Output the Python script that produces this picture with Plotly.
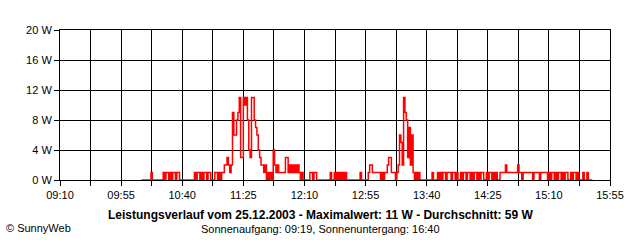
import plotly.graph_objects as go

# ---- data (per-minute power in W, starting 10:10) ----
start_minute = 10 * 60 + 10
power_w = [
    0, 0, 0, 0, 0, 0, 0, 1, 0, 0,
    0, 0, 0, 0, 0, 0, 1, 0, 1, 1,
    0, 1, 0, 1, 1, 0, 1, 1, 0, 0,
    0, 0, 0, 0, 0, 0, 0, 0, 0, 1,
    0, 1, 1, 0, 1, 0, 1, 1, 0, 1,
    1, 0, 0, 0, 1, 1, 0, 1, 0, 1,
    1, 2, 2, 3, 2, 1, 2, 9, 6, 6,
    8, 9, 11, 3, 3, 11, 10, 11, 8, 4,
    3, 11, 11, 8, 7, 6, 4, 3, 2, 2,
    1, 2, 0, 1, 0, 1, 0, 4, 2, 1,
    2, 1, 1, 1, 1, 1, 3, 3, 1, 2,
    1, 2, 1, 2, 1, 2, 1, 0, 1, 0,
    0, 0, 0, 0, 1, 1, 0, 1, 1, 0,
    0, 0, 0, 0, 0, 0, 0, 0, 0, 1,
    0, 0, 1, 0, 1, 0, 1, 0, 1, 0,
    1, 0, 0, 0, 0, 0, 0, 0, 0, 0,
    0, 1, 0, 0, 0, 0, 0, 1, 2, 2,
    1, 1, 1, 1, 1, 1, 0, 1, 0, 1,
    1, 2, 3, 3, 1, 1, 1, 0, 1, 2,
    6, 5, 2, 11, 9, 8, 3, 7, 2, 6,
    1, 0, 1, 0, 1, 0, 0, 0, 0, 0,
    0, 0, 0, 0, 1, 0, 0, 0, 1, 0,
    1, 0, 1, 1, 0, 1, 1, 1, 0, 1,
    1, 0, 1, 0, 0, 1, 0, 1, 1, 0,
    1, 1, 0, 1, 0, 1, 1, 0, 1, 0,
    1, 1, 0, 0, 1, 0, 1, 1, 0, 1,
    0, 1, 0, 0, 1, 1, 1, 1, 2, 1,
    1, 1, 1, 1, 1, 1, 1, 2, 1, 1,
    0, 1, 1, 1, 1, 1, 1, 1, 0, 1,
    1, 1, 1, 0, 1, 1, 1, 1, 1, 0,
    1, 0, 1, 1, 0, 1, 0, 1, 1, 0,
    1, 0, 1, 1, 0, 0, 1, 0, 1, 1,
    0, 1, 0, 0, 0, 1, 0, 0, 1, 0,
    0, 0, 0,
]
minutes = [start_minute + i for i in range(len(power_w))]

x_tick_minutes = [550 + 22.5 * k for k in range(19)]
x_tick_labels = ["09:10", "", "09:55", "", "10:40", "", "11:25", "", "12:10", "",
                 "12:55", "", "13:40", "", "14:25", "", "15:10", "", "15:55"]
y_tick_values = [0, 4, 8, 12, 16, 20]
y_tick_labels = ["0 W", "4 W", "8 W", "12 W", "16 W", "20 W"]

title_text = "Leistungsverlauf vom 25.12.2003 - Maximalwert: 11 W - Durchschnitt: 59 W"
sun_text = "Sonnenaufgang: 09:19, Sonnenuntergang: 16:40"
credit_text = "© SunnyWeb"

FONT = "Liberation Sans, Arial, sans-serif"

fig = go.Figure()
fig.add_trace(go.Scatter(
    x=minutes, y=power_w, mode="lines",
    line=dict(color="#ff0000", width=1.5, shape="hv"),
    hoverinfo="skip", showlegend=False,
))

fig.update_layout(
    width=640, height=240,
    margin=dict(l=60, r=30, t=30, b=60),
    paper_bgcolor="white", plot_bgcolor="white",
    font=dict(family=FONT, size=11, color="black"),
    showlegend=False,
)
fig.update_xaxes(
    range=[550, 955], tickmode="array", tickvals=x_tick_minutes, ticktext=x_tick_labels,
    showgrid=True, gridcolor="black", gridwidth=1,
    showline=True, linecolor="black", linewidth=1, mirror=True,
    ticks="outside", ticklen=5, tickcolor="black", tickwidth=1,
    zeroline=False, layer="above traces",
    tickfont=dict(family=FONT, size=11, color="black"),
)
fig.update_yaxes(
    range=[0, 20], tickmode="array", tickvals=y_tick_values, ticktext=y_tick_labels,
    showgrid=True, gridcolor="black", gridwidth=1,
    showline=True, linecolor="black", linewidth=1, mirror=True,
    ticks="outside", ticklen=5, tickcolor="black", tickwidth=1,
    zeroline=False, layer="above traces",
    tickfont=dict(family=FONT, size=11, color="black"),
)

def px_x(px):
    return (px - 60) / 550.0

def px_y(py):
    return (180 - py) / 150.0

fig.add_annotation(text="<b>" + title_text + "</b>", xref="paper", yref="paper",
                   x=px_x(320), y=px_y(215), xanchor="center", yanchor="middle",
                   showarrow=False, font=dict(family=FONT, size=12, color="black"))
fig.add_annotation(text=sun_text, xref="paper", yref="paper",
                   x=px_x(320), y=px_y(229), xanchor="center", yanchor="middle",
                   showarrow=False, font=dict(family=FONT, size=11, color="black"))
fig.add_annotation(text=credit_text, xref="paper", yref="paper",
                   x=px_x(4), y=px_y(228), xanchor="left", yanchor="middle",
                   showarrow=False, font=dict(family=FONT, size=11, color="black"))

fig.write_html("out.html")
